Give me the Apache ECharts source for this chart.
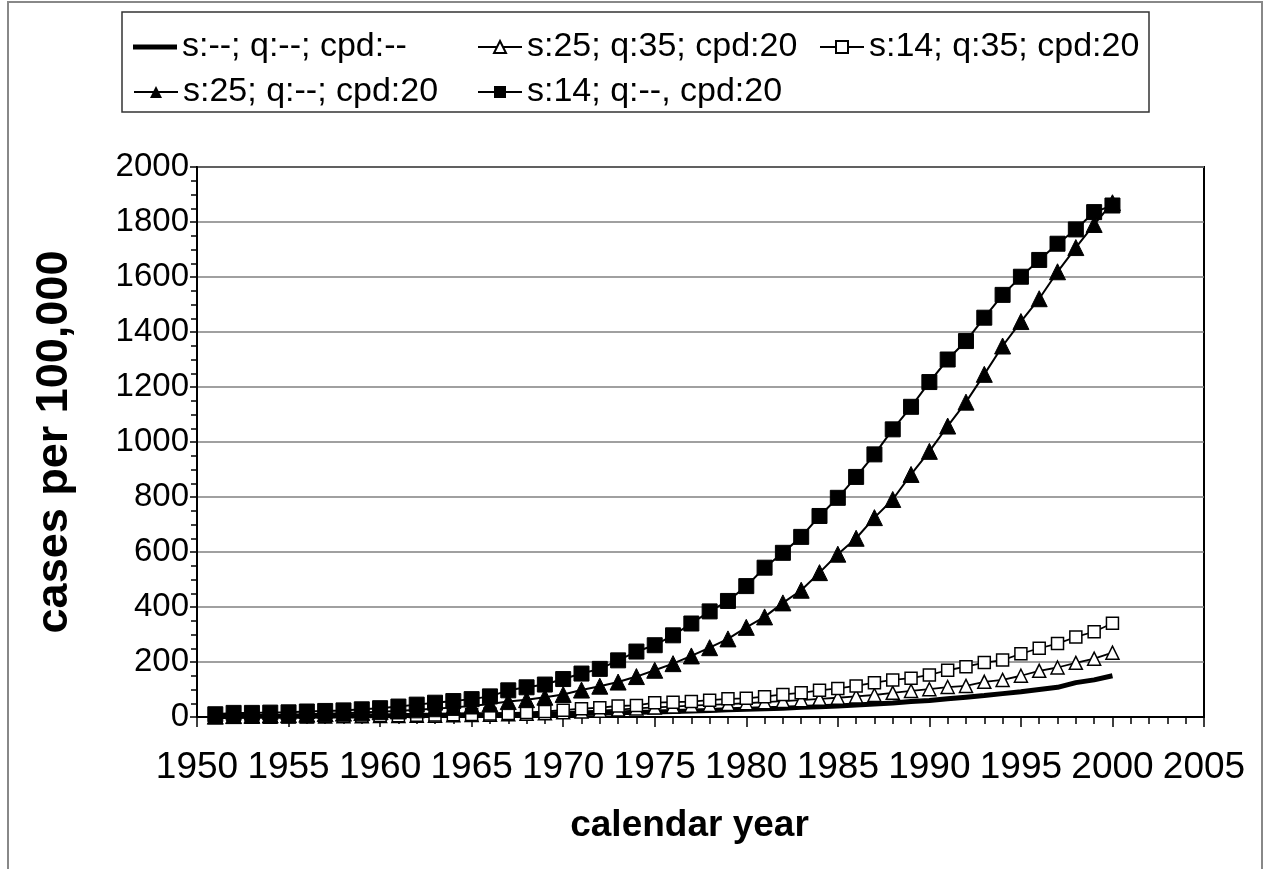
<!DOCTYPE html>
<html>
<head>
<meta charset="utf-8">
<script src="https://cdn.jsdelivr.net/npm/echarts@6/dist/echarts.min.js"></script>
<style>
html,body{margin:0;padding:0;background:#fff;}
#chart{width:1273px;height:869px;}
</style>
</head>
<body>
<div id="chart"></div>
<script>
const years = [1951,1952,1953,1954,1955,1956,1957,1958,1959,1960,
               1961,1962,1963,1964,1965,1966,1967,1968,1969,1970,
               1971,1972,1973,1974,1975,1976,1977,1978,1979,1980,
               1981,1982,1983,1984,1985,1986,1987,1988,1989,1990,
               1991,1992,1993,1994,1995,1996,1997,1998,1999,2000];

const seriesNames = ['s:--; q:--; cpd:--','s:25; q:35; cpd:20','s:14; q:35; cpd:20','s:25; q:--; cpd:20','s:14; q:--, cpd:20'];

const baseline = [2,2,3,3,3,3,4,4,4,5,
                  5,6,6,7,8,8,9,10,11,12,
                  13,14,15,17,18,20,22,24,26,28,
                  30,32,35,37,40,44,47,51,56,60,
                  66,72,78,85,92,100,108,125,135,150];

const s25q35 = [1,1,1,1,2,2,2,3,3,4,
                4,5,5,6,7,8,10,12,14,17,
                20,23,27,31,35,38,41,44,47,50,
                54,58,61,66,70,75,80,88,95,101,
                109,113,128,135,150,168,180,197,212,234];

const s14q35 = [1,1,1,2,2,2,3,3,4,5,
                5,6,7,8,9,11,13,16,20,25,
                30,34,40,42,52,54,56,61,66,68,
                74,82,88,97,104,113,125,135,141,153,
                170,183,198,207,230,250,267,291,310,341];

const s25 = [3,5,6,7,8,10,12,14,16,19,
             22,26,30,35,40,47,56,63,72,82,
             98,112,127,147,170,194,222,252,284,326,
             364,415,461,525,592,650,725,791,882,966,
             1058,1145,1246,1349,1438,1521,1619,1707,1791,1870];

const s14 = [10,15,15,16,17,20,22,24,28,32,
             38,45,52,58,65,75,97,108,118,138,
             158,175,206,238,261,297,340,384,422,476,
             543,597,655,731,797,873,955,1046,1128,1218,
             1300,1367,1452,1535,1601,1662,1721,1773,1836,1860];

const pair = arr => years.map((y,i)=>[y, arr[i]]);
const FONT = '"Liberation Sans", Arial, sans-serif';

const chart = echarts.init(document.getElementById('chart'), null, {renderer:'canvas'});

function legendAt(item, left, top, iw, ih){
  return {
    data:[item], left:left, top:top, orient:'horizontal',
    itemWidth:iw || 44, itemHeight:ih || 15, itemGap:0, padding:0,
    textStyle:{fontSize:34, color:'#000', fontFamily:FONT},
    selectedMode:false
  };
}

chart.setOption({
  backgroundColor:'#fff',
  animation:false,
  graphic:[
    {type:'rect', shape:{x:8,y:2,width:1254,height:900}, style:{fill:'none', stroke:'#888', lineWidth:2}, silent:true, z:-1},
    {type:'rect', shape:{x:122,y:12,width:1027,height:100}, style:{fill:'#fff', stroke:'#333', lineWidth:1.5}, silent:true, z:-1}
  ],
  legend:[
    legendAt({name:seriesNames[0], icon:'rect'}, 133, 30, 44, 5),
    legendAt(seriesNames[1], 477, 30),
    legendAt(seriesNames[2], 819, 30),
    legendAt(seriesNames[3], 133, 75),
    legendAt(seriesNames[4], 477, 75)
  ],
  grid:{left:197, right:69, top:167, bottom:152, show:true, borderColor:'#000', borderWidth:2, backgroundColor:'#fff'},
  xAxis:{
    type:'value', min:1950, max:2005, interval:5,
    name:'calendar year', nameLocation:'middle', nameGap:90,
    nameTextStyle:{fontSize:37, fontWeight:'bold', color:'#000', fontFamily:FONT, padding:[0,22,0,0]},
    axisLine:{show:true, onZero:false, lineStyle:{color:'#000', width:2}},
    axisTick:{show:true, inside:false, length:10, lineStyle:{color:'#000', width:1.5}},
    minorTick:{show:true, splitNumber:5, length:7, lineStyle:{color:'#000', width:1.5}},
    axisLabel:{fontSize:37, color:'#000', fontFamily:FONT, margin:32, formatter:v=>String(v)},
    splitLine:{show:false}
  },
  yAxis:{
    type:'value', min:0, max:2000, interval:200,
    name:'cases per 100,000', nameLocation:'middle', nameGap:120, nameRotate:90,
    nameTextStyle:{fontSize:45, fontWeight:'bold', color:'#000', fontFamily:FONT},
    axisLine:{show:true, lineStyle:{color:'#000', width:2}},
    axisTick:{show:true, inside:false, length:7, lineStyle:{color:'#000', width:1.5}},
    minorTick:{show:true, splitNumber:4, length:6, lineStyle:{color:'#000', width:1.5}},
    axisLabel:{fontSize:33, color:'#000', fontFamily:FONT, margin:8, formatter:v=>String(v)},
    splitLine:{show:true, lineStyle:{color:'#808080', width:1.5}}
  },
  series:[
    {name:seriesNames[0], type:'line', data:pair(baseline), symbol:'none', clip:false,
     lineStyle:{color:'#000', width:5}, itemStyle:{color:'#000'}},
    {name:seriesNames[1], type:'line', data:pair(s25q35), symbol:'triangle', symbolSize:13, clip:false,
     lineStyle:{color:'#000', width:1.8}, itemStyle:{color:'#fff', borderColor:'#000', borderWidth:1.5}},
    {name:seriesNames[2], type:'line', data:pair(s14q35), symbol:'rect', symbolSize:12, clip:false,
     lineStyle:{color:'#000', width:1.8}, itemStyle:{color:'#fff', borderColor:'#000', borderWidth:1.5}},
    {name:seriesNames[3], type:'line', data:pair(s25), symbol:'triangle', symbolSize:16, clip:false,
     lineStyle:{color:'#000', width:2}, itemStyle:{color:'#000', borderColor:'#000'}},
    {name:seriesNames[4], type:'line', data:pair(s14), symbol:'rect', symbolSize:15, clip:false,
     lineStyle:{color:'#000', width:2}, itemStyle:{color:'#000', borderColor:'#000'}}
  ]
});
</script>
</body>
</html>
